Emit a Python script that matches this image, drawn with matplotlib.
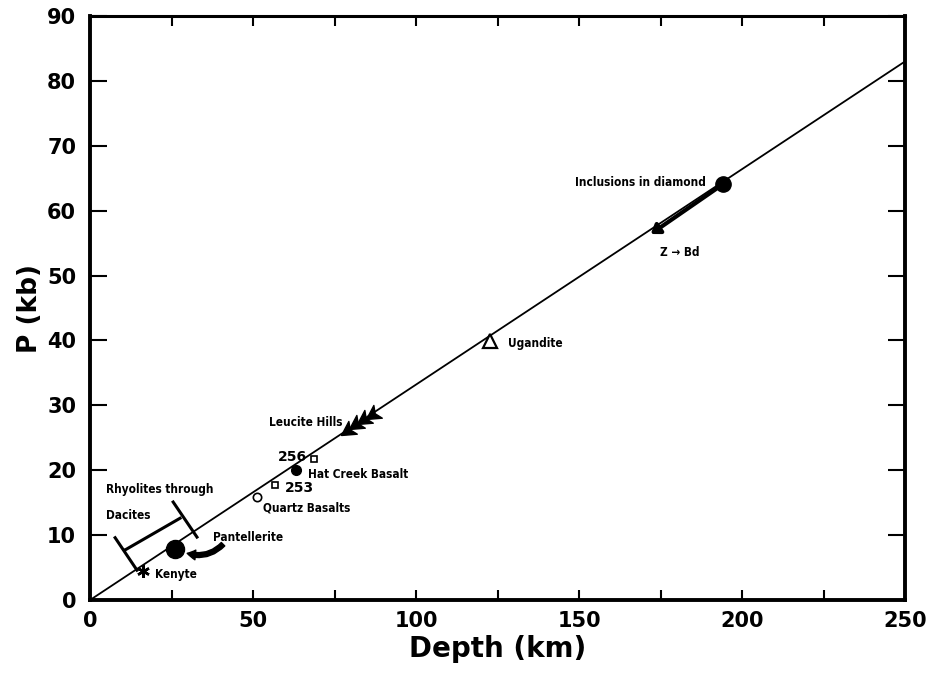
import numpy as np
import matplotlib.pyplot as plt
from matplotlib.markers import MarkerStyle
from matplotlib.transforms import Affine2D

plt.rcParams['font.family'] = ['DejaVu Sans']
plt.rcParams['font.weight'] = 'bold'

# pressure-depth reference line
line_depth = [0, 250]
line_p = [0, 83.0]

# single points (depth km, P kb)
diamond = (194.2, 64.1)
z_bd = (172.0, 56.4)
ugandite = (122.7, 39.9)
sq_256 = (68.7, 21.7)
hat_creek = (63.2, 20.0)
sq_253 = (56.7, 17.7)
quartz = (51.2, 15.9)
pantellerite = (26.1, 7.9)
kenyte = (16.3, 4.5)

# Leucite Hills arrowheads
leucite_depth = [77.0, 79.5, 82.0, 84.5]
leucite_p = [25.4, 26.3, 27.1, 27.9]

# Rhyolites-through-Dacites bracket
bracket_x = [7.7, 14.4, np.nan, 10.7, 27.6, np.nan, 25.5, 32.8]
bracket_y = [9.6, 4.6, np.nan, 7.7, 12.6, np.nan, 15.1, 9.7]

fig = plt.figure(figsize=(9.32, 6.77), dpi=100)
ax = fig.add_axes([0.0966, 0.1137, 0.8745, 0.8627])

ax.plot(line_depth, line_p, color='black', lw=1.3, zorder=2)

ax.plot(*diamond, 'o', color='black', ms=11, zorder=4)
ax.plot(*ugandite, '^', mfc='white', mec='black', mew=1.6, ms=10, zorder=4)
ax.plot(*sq_256, 's', mfc='white', mec='black', mew=1.2, ms=5, zorder=4)
ax.plot(*sq_253, 's', mfc='white', mec='black', mew=1.2, ms=5, zorder=4)
ax.plot(*hat_creek, 'o', color='black', ms=7, zorder=4)
ax.plot(*quartz, 'o', mfc='white', mec='black', mew=1.2, ms=6, zorder=4)
ax.plot(*pantellerite, 'o', color='black', ms=13, zorder=4)
ax.plot(*kenyte, marker=(6, 2, 0), color='black', mew=1.8, ms=9, zorder=4, linestyle='none')

# arrowhead marker pointing down-left along the line
head = [(0, 0), (-1, 0.55), (-0.75, 0), (-1, -0.55), (0, 0)]
head_marker = MarkerStyle(head, transform=Affine2D().rotate_deg(213.5))
ax.plot(leucite_depth, leucite_p, linestyle='none', marker=head_marker,
        color='black', ms=20, zorder=4)

# diamond -> Z->Bd arrow
ax.annotate('', xy=z_bd, xytext=diamond,
            arrowprops=dict(arrowstyle='-|>,head_length=0.5,head_width=0.35',
                            color='black', lw=3, shrinkA=6, shrinkB=0),
            zorder=3)

# Pantellerite curved arrow
ax.annotate('', xy=(29.8, 7.2), xytext=(40.8, 8.6),
            arrowprops=dict(arrowstyle='simple,head_length=0.6,head_width=0.7,tail_width=0.35',
                            connectionstyle='arc3,rad=-0.3', color='black',
                            shrinkA=0, shrinkB=0))

ax.plot(bracket_x, bracket_y, color='black', lw=2.2, zorder=3)

fs = 8.5
txt = dict(fontsize=fs, fontstretch='condensed', va='center')
ax.text(189, 64.4, 'Inclusions in diamond', ha='right', **txt)
ax.text(174.8, 53.5, 'Z → Bd', ha='left', **txt)
ax.text(128.2, 39.6, 'Ugandite', ha='left', **txt)
ax.text(77.3, 27.4, 'Leucite Hills', ha='right', **txt)
ax.text(66.6, 22.0, '256', ha='right', va='center', fontsize=10)
ax.text(66.9, 19.4, 'Hat Creek Basalt', ha='left', **txt)
ax.text(59.8, 17.3, '253', ha='left', va='center', fontsize=10)
ax.text(53.1, 14.2, 'Quartz Basalts', ha='left', **txt)
ax.text(4.9, 17.0, 'Rhyolites through', ha='left', **txt)
ax.text(4.9, 13.1, 'Dacites', ha='left', **txt)
ax.text(37.7, 9.7, 'Pantellerite', ha='left', **txt)
ax.text(19.9, 4.0, 'Kenyte', ha='left', **txt)

ax.set_xlim(0, 250)
ax.set_ylim(0, 90)
ax.set_xticks(np.arange(0, 251, 25))
ax.set_xticklabels([str(v) if v % 50 == 0 else '' for v in range(0, 251, 25)])
ax.set_yticks(np.arange(0, 91, 10))
ax.tick_params(axis='x', direction='in', length=7, width=1.5, top=True,
               labelsize=15, pad=8)
ax.tick_params(axis='y', direction='in', length=12, width=1.5, right=True,
               labelsize=15, pad=10)
for side in ['left', 'bottom', 'right']:
    ax.spines[side].set_linewidth(2.8)
ax.spines['top'].set_linewidth(2.2)

ax.set_xlabel('Depth (km)', fontsize=20, fontweight='bold', labelpad=3)
ax.set_ylabel('P (kb)', fontsize=19, fontweight='bold', labelpad=3)

fig.savefig('out.png', dpi=100)
